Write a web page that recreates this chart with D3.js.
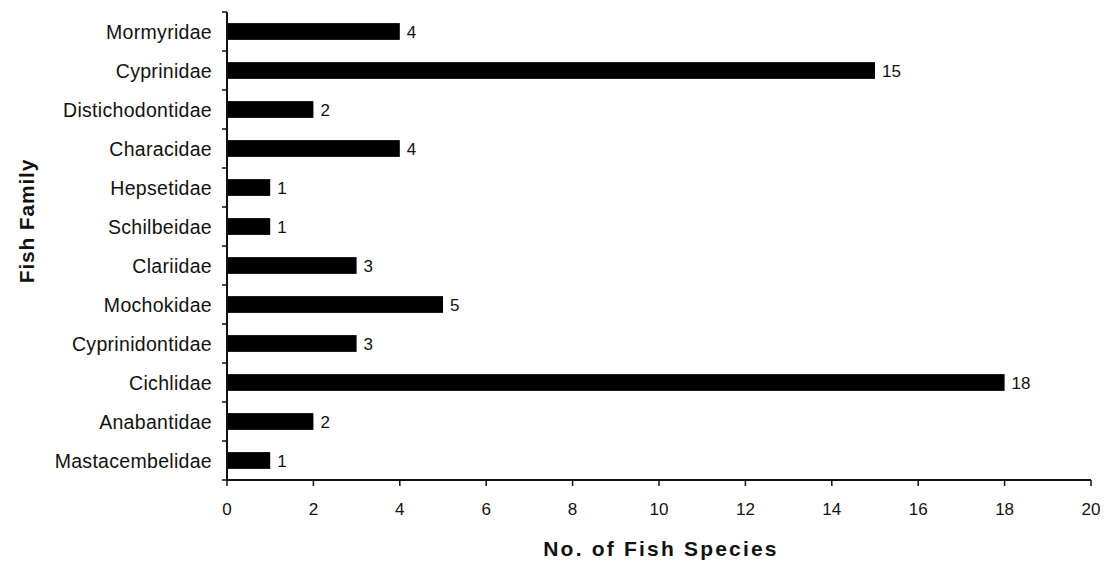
<!DOCTYPE html>
<html><head><meta charset="utf-8">
<script src="https://cdn.jsdelivr.net/npm/d3@7"></script>
<style>body{margin:0;background:#fff}svg{display:block}text{font-family:"Liberation Sans",Arial,sans-serif}</style>
</head><body><svg id="c" width="1108" height="564"></svg>
<script>
const families = ["Mormyridae","Cyprinidae","Distichodontidae","Characidae","Hepsetidae","Schilbeidae","Clariidae","Mochokidae","Cyprinidontidae","Cichlidae","Anabantidae","Mastacembelidae"];
const species = [4,15,2,4,1,1,3,5,3,18,2,1];
const xTicks = [0,2,4,6,8,10,12,14,16,18,20];

const svg = d3.select("#c");
const m = {l:227, r:1091, t:12, b:480};
const x = d3.scaleLinear().domain([0,20]).range([m.l, m.r]);
const y = d3.scaleBand().domain(families).range([m.t, m.b]).paddingInner(0.57).paddingOuter(0.285);
const yb = d3.scaleBand().domain(families).range([m.t, m.b]);

svg.append("g").selectAll("rect").data(families).join("rect")
  .attr("x", x(0)).attr("y", d => y(d))
  .attr("width", (d,i) => x(species[i]) - x(0))
  .attr("height", y.bandwidth()).attr("fill", "#000");

svg.append("g").selectAll("text").data(families).join("text")
  .attr("x", (d,i) => x(species[i]) + 7).attr("y", d => y(d) + y.bandwidth()/2)
  .attr("dy", "0.36em").attr("font-size", 17).attr("fill", "#111")
  .text((d,i) => species[i]);

// y axis
const gy = svg.append("g");
gy.append("line").attr("x1", m.l).attr("x2", m.l).attr("y1", m.t).attr("y2", m.b).attr("stroke","#111").attr("stroke-width",2);
const yTickPos = families.map(f => yb(f)).concat([m.b]);
gy.selectAll("line.t").data(yTickPos).join("line").attr("class","t")
  .attr("x1", m.l-5).attr("x2", m.l).attr("y1", d=>d).attr("y2", d=>d).attr("stroke","#111").attr("stroke-width",1.5);
gy.selectAll("text").data(families).join("text")
  .attr("x", m.l-15).attr("y", d => yb(d) + yb.bandwidth()/2).attr("dy","0.36em")
  .attr("text-anchor","end").attr("font-size",19.5).attr("letter-spacing","0.3px").attr("fill","#111").text(d=>d);

// x axis
const gx = svg.append("g");
gx.append("line").attr("x1", m.l).attr("x2", m.r).attr("y1", m.b).attr("y2", m.b).attr("stroke","#111").attr("stroke-width",2);
gx.selectAll("line.t").data(xTicks).join("line").attr("class","t")
  .attr("x1", d=>x(d)).attr("x2", d=>x(d)).attr("y1", m.b).attr("y2", m.b+6).attr("stroke","#111").attr("stroke-width",1.5);
gx.selectAll("text").data(xTicks).join("text")
  .attr("x", d=>x(d)).attr("y", 515).attr("text-anchor","middle").attr("font-size",17).attr("fill","#111").text(d=>d);

svg.append("text").attr("x", 661).attr("y", 556).attr("text-anchor","middle")
  .attr("font-size",21).attr("font-weight","bold").attr("letter-spacing","2.2px").attr("fill","#111").text("No. of Fish Species");
svg.append("text").attr("transform","translate(34,221) rotate(-90)").attr("text-anchor","middle")
  .attr("font-size",21).attr("font-weight","bold").attr("letter-spacing","0.8px").attr("fill","#111").text("Fish Family");
</script></body></html>
